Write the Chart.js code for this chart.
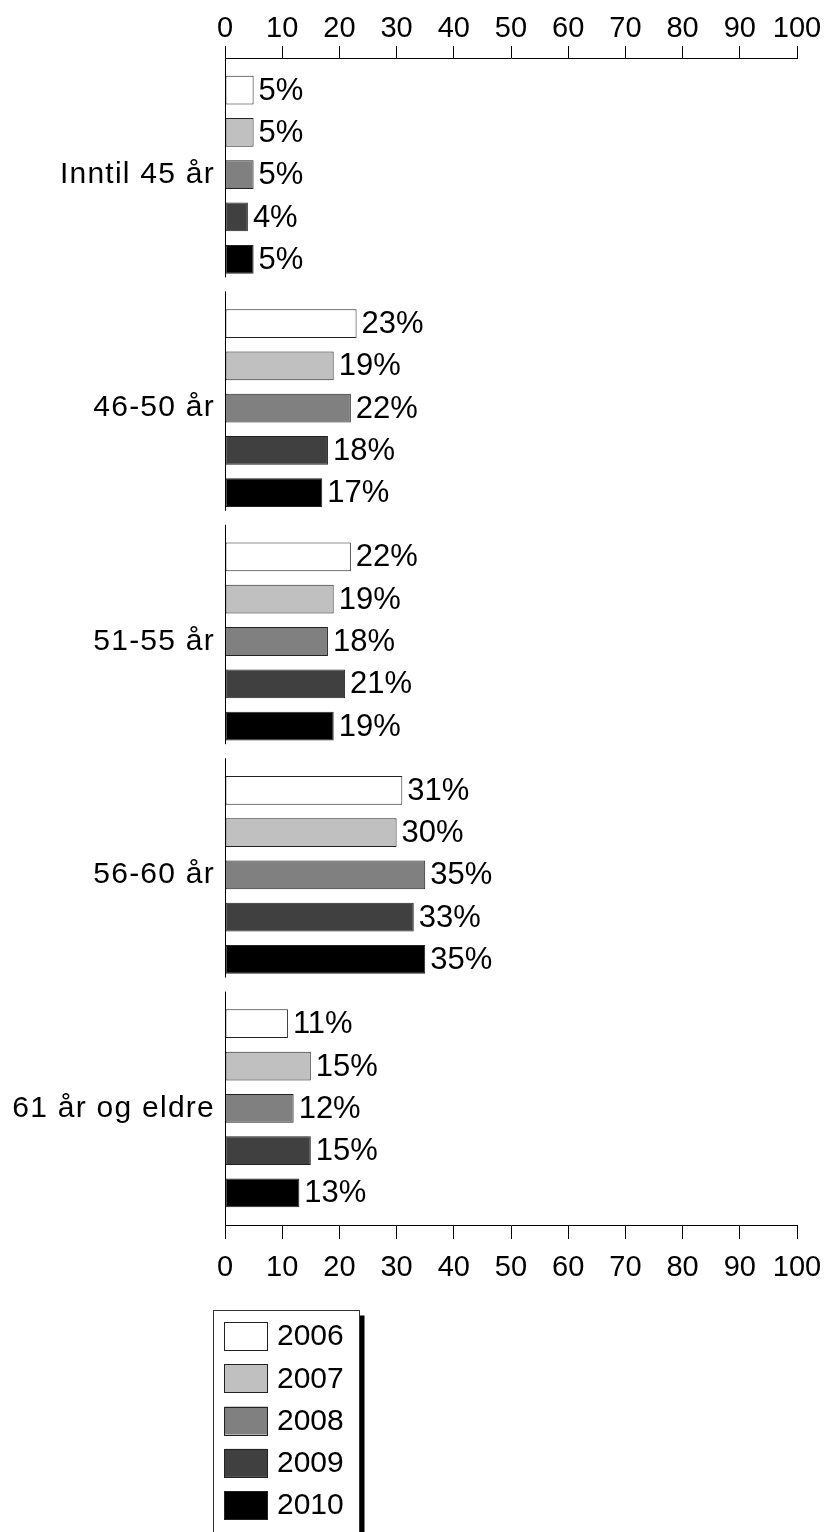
<!DOCTYPE html>
<html>
<head>
<meta charset="utf-8">
<script src="https://cdn.jsdelivr.net/npm/chart.js@4/dist/chart.umd.min.js"></script>
<style>
  html, body { margin: 0; padding: 0; background: #fff; }
  #wrap { width: 829px; height: 1532px; position: relative; }
</style>
</head>
<body>
<div id="wrap"><canvas id="c"></canvas></div>
<script>
// Age groups and yearly shares (%)
const categories = ['Inntil 45 år', '46-50 år', '51-55 år', '56-60 år', '61 år og eldre'];
const years = ['2006', '2007', '2008', '2009', '2010'];
const v2006 = [5, 23, 22, 31, 11];
const v2007 = [5, 19, 19, 30, 15];
const v2008 = [5, 22, 18, 35, 12];
const v2009 = [4, 18, 21, 33, 15];
const v2010 = [5, 17, 19, 35, 13];
const seriesValues = [v2006, v2007, v2008, v2009, v2010];
const seriesColors = ['#ffffff', '#c0c0c0', '#808080', '#404040', '#000000'];
const axisMin = 0, axisMax = 100, axisStep = 10;

const FONT = "'Liberation Sans', Arial, sans-serif";
Chart.defaults.font.family = FONT;
Chart.defaults.color = '#000';

const datasets = years.map((y, i) => ({
  label: y,
  data: seriesValues[i],
  backgroundColor: seriesColors[i],
  borderColor: '#222',
  borderWidth: 1,
  borderSkipped: false,
  categoryPercentage: 0.906,
  barPercentage: 0.68,
  xAxisID: 'x'
}));

// Vertical axis drawn as one segment per age group
const groupAxis = {
  id: 'groupAxis',
  afterDatasetsDraw(chart) {
    const { ctx, chartArea } = chart;
    const y = chart.scales.y;
    const n = categories.length;
    const catH = chartArea.height / n;
    ctx.save();
    ctx.strokeStyle = '#000';
    ctx.lineWidth = 1;
    for (let i = 0; i < n; i++) {
      const c = y.getPixelForValue(i);
      const top = c - catH / 2;
      const bottom = i === n - 1 ? chartArea.bottom : c + catH / 2 - 14;
      ctx.beginPath();
      ctx.moveTo(chartArea.left + 0.5, top);
      ctx.lineTo(chartArea.left + 0.5, bottom);
      ctx.stroke();
    }
    ctx.restore();
  }
};

// Percentage labels at the end of each bar
const valueLabels = {
  id: 'valueLabels',
  afterDatasetsDraw(chart) {
    const { ctx } = chart;
    ctx.save();
    ctx.font = '31px ' + FONT;
    ctx.fillStyle = '#000';
    ctx.textAlign = 'left';
    ctx.textBaseline = 'middle';
    chart.data.datasets.forEach((ds, di) => {
      const meta = chart.getDatasetMeta(di);
      meta.data.forEach((el, i) => {
        ctx.fillText(ds.data[i] + '%', el.x + 5, el.y + 1);
      });
    });
    ctx.restore();
  }
};

// Slightly wider tracking for the age-group labels (their layer is drawn after the datasets)
const groupLabelSpacing = {
  id: 'groupLabelSpacing',
  afterDatasetsDraw(chart) { chart.ctx.letterSpacing = '1.25px'; },
  afterDraw(chart) { chart.ctx.letterSpacing = '0px'; }
};

// Boxed legend with drop shadow below the chart
const boxLegend = {
  id: 'boxLegend',
  afterDraw(chart) {
    const { ctx } = chart;
    const left = 213.5, top = 1310.5, right = 359.5, bottom = 1545;
    ctx.save();
    ctx.letterSpacing = '0px';
    ctx.fillStyle = '#000';
    ctx.fillRect(right + 0.5, top + 5, 4.5, bottom - top);
    ctx.fillStyle = '#fff';
    ctx.fillRect(left, top, right - left, bottom - top);
    ctx.strokeStyle = '#333';
    ctx.lineWidth = 1;
    ctx.strokeRect(left, top, right - left, bottom - top);
    ctx.font = '30px ' + FONT;
    ctx.textAlign = 'left';
    ctx.textBaseline = 'middle';
    chart.data.datasets.forEach((ds, i) => {
      const cy = 1336 + i * 42.3;
      ctx.fillStyle = ds.backgroundColor;
      ctx.fillRect(224.5, cy - 14, 43, 28);
      ctx.strokeStyle = '#222';
      ctx.strokeRect(224.5, Math.round(cy - 14) + 0.5, 43, 28);
      ctx.fillStyle = '#000';
      ctx.fillText(ds.label, 277, cy + 1);
    });
    ctx.restore();
  }
};

function xScale(position, tickLength, padding, size) {
  return {
    type: 'linear',
    position: position,
    min: axisMin,
    max: axisMax,
    grid: { drawOnChartArea: false, drawTicks: true, tickLength: tickLength, color: '#000', lineWidth: 1 },
    border: { display: true, color: '#000', width: 1 },
    ticks: { stepSize: axisStep, font: { size: 29 }, color: '#000', padding: padding, maxRotation: 0 },
    afterFit(scale) {
      scale.height = size;
      scale.paddingLeft = 0;
      scale.paddingRight = 0;
    }
  };
}

new Chart(document.getElementById('c'), {
  type: 'bar',
  data: { labels: categories, datasets: datasets },
  options: {
    indexAxis: 'y',
    responsive: true,
    maintainAspectRatio: false,
    animation: false,
    layout: { padding: { left: 0, right: 32, top: 0, bottom: 0 } },
    plugins: { legend: { display: false }, tooltip: { enabled: false } },
    scales: {
      x: xScale('bottom', 14, 12, 307),
      x2: xScale('top', 12, 0, 58),
      y: {
        type: 'category',
        position: 'left',
        grid: { display: false, drawTicks: false },
        border: { display: false },
        ticks: { font: { size: 30 }, color: '#000', padding: 10, z: 1 },
        afterFit(scale) { scale.width = 225; }
      }
    }
  },
  plugins: [groupAxis, valueLabels, groupLabelSpacing, boxLegend]
});
</script>
</body>
</html>
